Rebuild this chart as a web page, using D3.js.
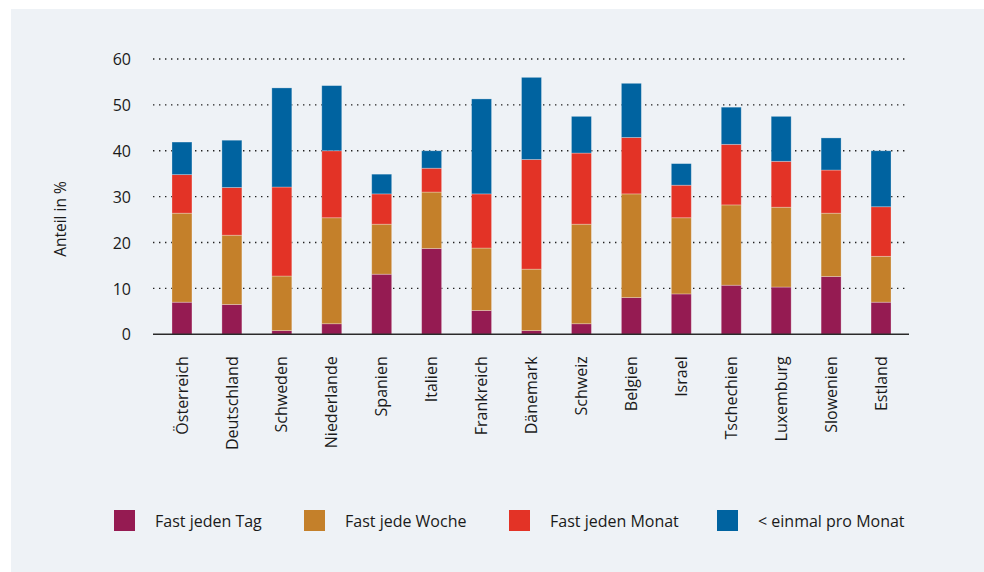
<!DOCTYPE html>
<html><head><meta charset="utf-8">
<script src="https://cdn.jsdelivr.net/npm/d3@7"></script>
<style>
html,body{margin:0;padding:0;background:#fff;}
svg text{font-family:"Open Sans","Lato",sans-serif;fill:#1a1a1a;}
</style></head>
<body>
<svg id="c" width="984" height="572"></svg>
<script>
const countries = ["Österreich","Deutschland","Schweden","Niederlande","Spanien","Italien","Frankreich","Dänemark","Schweiz","Belgien","Israel","Tschechien","Luxemburg","Slowenien","Estland"];
const seriesNames = ["Fast jeden Tag","Fast jede Woche","Fast jeden Monat","< einmal pro Monat"];
const fastJedenTag    = [7.0, 6.5, 0.8, 2.3, 13.1, 18.7, 5.2, 0.8, 2.3, 8.0, 8.8, 10.7, 10.3, 12.6, 7.0];
const fastJedeWoche   = [19.4, 15.1, 11.9, 23.1, 10.9, 12.3, 13.6, 13.4, 21.7, 22.6, 16.6, 17.5, 17.4, 13.8, 10.0];
const fastJedenMonat  = [8.4, 10.4, 19.4, 14.6, 6.6, 5.2, 11.8, 23.9, 15.5, 12.3, 7.1, 13.2, 10.0, 9.4, 10.8];
const seltener        = [7.1, 10.3, 21.6, 14.2, 4.3, 3.8, 20.7, 17.9, 8.0, 11.8, 4.7, 8.1, 9.8, 7.0, 12.2];
const yTicks = [0, 10, 20, 30, 40, 50, 60];
const colors = ["#951b52", "#c4802a", "#e33326", "#0063a0"];

const svg = d3.select("#c");
svg.append("rect").attr("x", 11).attr("y", 9).attr("width", 973).attr("height", 563).attr("fill", "#eef2f6");

const table = countries.map((c, i) => ({
  country: c,
  [seriesNames[0]]: fastJedenTag[i],
  [seriesNames[1]]: fastJedeWoche[i],
  [seriesNames[2]]: fastJedenMonat[i],
  [seriesNames[3]]: seltener[i]
}));

const x = d3.scaleBand().domain(countries).range([157, 906]).paddingInner(0.6).paddingOuter(0.3);
const y = d3.scaleLinear().domain([0, 60]).range([334.3, 59]);

// gridlines
const g = svg.append("g");
g.selectAll("line.grid").data(yTicks.filter(t => t > 0)).join("line")
  .attr("x1", 153).attr("x2", 909)
  .attr("y1", d => y(d)).attr("y2", d => y(d))
  .attr("stroke", "#222").attr("stroke-width", 1.4).attr("stroke-dasharray", "1.4,4.6");

// y axis labels
const yAxis = d3.axisLeft(y).tickValues(yTicks).tickSize(0).tickPadding(0);
const ya = svg.append("g").attr("transform", "translate(131,0)").call(yAxis);
ya.select(".domain").remove();
ya.selectAll("text").style("font-size", "16px").attr("dy", "0.35em").style("fill", "#1a1a1a");

// stacked bars
const stack = d3.stack().keys(seriesNames)(table);
svg.append("g").selectAll("g").data(stack).join("g")
  .attr("fill", (d, i) => colors[i])
  .selectAll("rect").data(d => d).join("rect")
  .attr("x", d => x(d.data.country))
  .attr("width", x.bandwidth())
  .attr("y", d => y(d[1]))
  .attr("height", d => y(d[0]) - y(d[1]))
  .attr("stroke", "rgba(255,255,255,0.35)").attr("stroke-width", 0.8);

// baseline
svg.append("line").attr("x1", 153).attr("x2", 909).attr("y1", y(0)).attr("y2", y(0))
  .attr("stroke", "#2a2a2a").attr("stroke-width", 1.6);

// x axis labels
const xAxis = d3.axisBottom(x).tickSize(0).tickPadding(0);
const xa = svg.append("g").attr("transform", `translate(0,${y(0)})`).call(xAxis);
xa.select(".domain").remove();
xa.selectAll("text")
  .style("font-size", "16px").style("fill", "#1a1a1a")
  .attr("text-anchor", "end")
  .attr("transform", "translate(0,22) rotate(-90)")
  .attr("x", 0).attr("y", 0).attr("dy", "0.35em");

// y title
svg.append("text").attr("transform", "translate(61,219) rotate(-90)")
  .attr("text-anchor", "middle").attr("dy", "0.35em").style("font-size", "15.5px").text("Anteil in %");

// legend
const legendX = [114, 304, 509, 717];
const lg = svg.append("g").selectAll("g").data(seriesNames).join("g")
  .attr("transform", (d, i) => `translate(${legendX[i]},510)`);
lg.append("rect").attr("width", 21).attr("height", 21).attr("fill", (d, i) => colors[i]);
lg.append("text").attr("x", 41).attr("y", 11).attr("dy", "0.35em").style("font-size", "16px").text(d => d);
</script>
</body></html>
